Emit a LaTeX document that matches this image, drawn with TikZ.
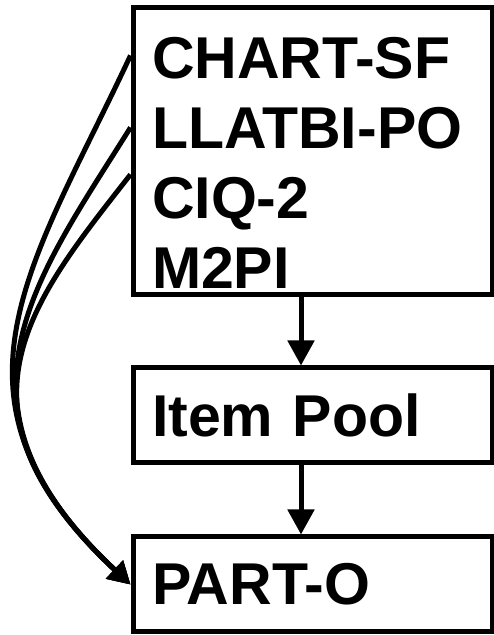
\documentclass[tikz,border=0pt]{standalone}
\usepackage{fontspec}
\setmainfont{Liberation Sans}
\usepackage{tikz}
\usetikzlibrary{arrows.meta, positioning}
\newcommand{\boxfont}{\fontsize{59}{70}\selectfont\bfseries}
\tikzset{
  blockbox/.style = {rectangle, draw, line width=5pt, align=left,
                     font=\boxfont, inner xsep=19pt, text width=321pt,
                     minimum height=95pt},
  arr/.style      = {-{Triangle[length=25pt,width=26pt]}, line width=5pt},
  carr/.style     = {-{Triangle[length=22pt,width=24pt]}, line width=5pt},
}

\begin{document}
\begin{tikzpicture}[x=1pt, y=1pt]
  \useasboundingbox (0,0) rectangle (494,635);
  \node[blockbox, minimum height=287pt] (src) at (312.5,483.5)
    {\rule{0pt}{64pt}CHART-SF\\LLATBI-PO\\CIQ-2\\M2PI};
  \node[blockbox, below=68pt of src] (pool) {Item Pool};
  \node[blockbox, below=69pt of pool] (parto) {PART-O};

  \draw[arr] ([xshift=-11.5pt]src.south) -- ([xshift=-11.5pt]pool.north);
  \draw[arr] ([xshift=-11.5pt]pool.south) -- ([xshift=-11.5pt]parto.north);

  % instruments feeding straight into PART-O
  \coordinate (s1) at ([yshift=-50pt]src.north west);
  \coordinate (s2) at ([yshift=-122pt]src.north west);
  \coordinate (s3) at ([yshift=-169pt]src.north west);
  \draw[carr] (s1) to[out=245, in=137, out distance=230pt, in distance=275pt] (parto.west);
  \draw[carr] (s2) to[out=238, in=137, out distance=180pt, in distance=265pt] (parto.west);
  \draw[carr] (s3) to[out=232, in=137, out distance=160pt, in distance=260pt] (parto.west);
\end{tikzpicture}
\end{document}
